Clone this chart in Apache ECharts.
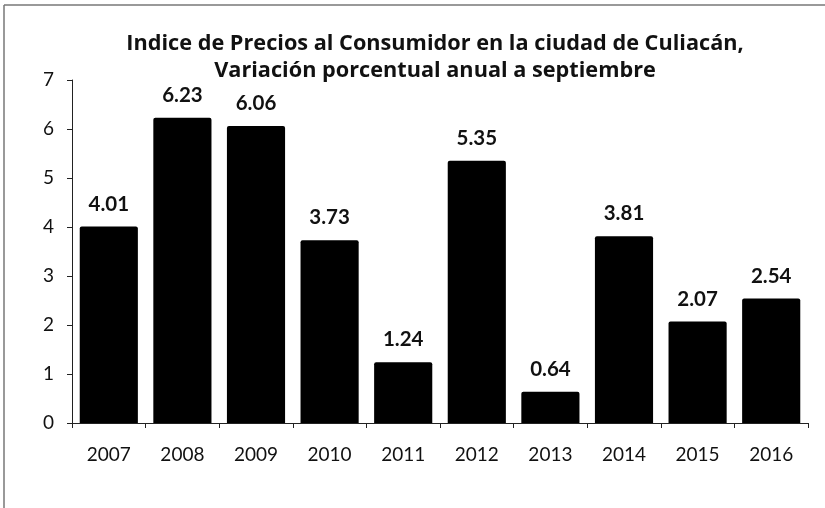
<!DOCTYPE html>
<html>
<head>
<meta charset="utf-8">
<script src="https://cdn.jsdelivr.net/npm/echarts@6/dist/echarts.min.js"></script>
<style>
  html, body { margin: 0; padding: 0; background: #fff; }
  #main { width: 825px; height: 508px; }
</style>
</head>
<body>
<div id="main"></div>
<script>
// años y variación porcentual
const years = ['2007', '2008', '2009', '2010', '2011', '2012', '2013', '2014', '2015', '2016'];
const values = [4.01, 6.23, 6.06, 3.73, 1.24, 5.35, 0.64, 3.81, 2.07, 2.54];
const yTicks = [0, 1, 2, 3, 4, 5, 6, 7];

const font = 'Lato, "Open Sans", sans-serif';

const option = {
  backgroundColor: '#fff',
  animation: false,
  title: {
    text: 'Indice de Precios al Consumidor en la ciudad de Culiacán,\nVariación porcentual anual a septiembre',
    left: 430,
    top: 25,
    textAlign: 'center',
    textStyle: { fontFamily: '"Open Sans", sans-serif', fontSize: 21.7, fontWeight: 'bold', color: '#111', lineHeight: 27 }
  },
  graphic: [
    { type: 'line', shape: { x1: 4, y1: 5, x2: 825, y2: 5 }, style: { stroke: '#777', lineWidth: 1.5 } },
    { type: 'line', shape: { x1: 4, y1: 5, x2: 4, y2: 508 }, style: { stroke: '#777', lineWidth: 1.5 } }
  ],
  grid: { left: 72, right: 17, top: 80, bottom: 85 },
  xAxis: {
    type: 'category',
    data: years,
    axisLine: { lineStyle: { color: '#222', width: 1 } },
    axisTick: { show: true, length: 5, lineStyle: { color: '#222' } },
    axisLabel: { fontFamily: font, fontSize: 19, color: '#111', margin: 22 }
  },
  yAxis: {
    type: 'value',
    min: yTicks[0],
    max: yTicks[yTicks.length - 1],
    interval: 1,
    splitLine: { show: false },
    axisLine: { show: true, lineStyle: { color: '#222', width: 1 } },
    axisTick: { show: true, length: 5, lineStyle: { color: '#222' } },
    axisLabel: { fontFamily: font, fontSize: 19, color: '#111', margin: 18 }
  },
  series: [{
    type: 'bar',
    data: values,
    barCategoryGap: '21%',
    itemStyle: { color: '#000', borderRadius: [2, 2, 0, 0] },
    label: {
      show: true,
      position: 'top',
      distance: 12,
      formatter: p => p.value.toFixed(2),
      fontFamily: font,
      fontSize: 20.5,
      fontWeight: 'bold',
      color: '#111'
    }
  }]
};

const myChart = echarts.init(document.getElementById('main'));
myChart.setOption(option);
</script>
</body>
</html>
